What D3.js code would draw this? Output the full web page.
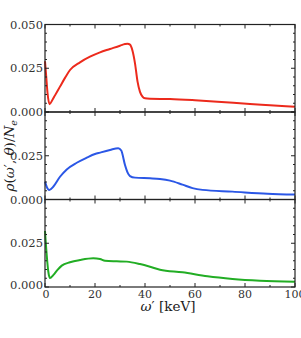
<!DOCTYPE html>
<html>
<head>
<meta charset="utf-8">
<script src="https://cdn.jsdelivr.net/npm/d3@7"></script>
<style>
  body { margin: 0; background: #fff; }
</style>
</head>
<body>
<div id="chart"></div>
<script>
var width = 301
var height = 338
var left = 45, right = 295
var panelTop = 24.5, panelH = 87.5

// red panel
var redOmega = [0, 0.5, 1, 1.8, 3, 4, 6, 8, 10, 14, 18, 22, 26, 30, 32, 33, 34, 35, 36, 37, 38, 39, 40, 42, 50, 60, 69, 82, 90, 100]
var redRho   = [0.029, 0.020, 0.011, 0.0045, 0.007, 0.0095, 0.0145, 0.0195, 0.024, 0.0284, 0.0316, 0.0341, 0.036, 0.0379, 0.0388, 0.039, 0.0385, 0.035, 0.0278, 0.0175, 0.0115, 0.0088, 0.0078, 0.0076, 0.0074, 0.0067, 0.0059, 0.0046, 0.0039, 0.0030]
// blue panel
var blueOmega = [0, 0.7, 1.7, 3.3, 6, 8.7, 12.7, 16.7, 20, 22, 26, 29.3, 30.5, 32, 33, 34, 36, 42, 46, 50, 55, 59, 63, 75, 89, 100]
var blueRho   = [0.0102, 0.0072, 0.0054, 0.0073, 0.013, 0.0172, 0.021, 0.0239, 0.026, 0.0268, 0.0283, 0.0293, 0.028, 0.0197, 0.0155, 0.0134, 0.0125, 0.0121, 0.0117, 0.0108, 0.0085, 0.0065, 0.0055, 0.0045, 0.0033, 0.0028]
// green panel
var greenOmega = [0, 0.7, 1.3, 2, 3.3, 5, 6.7, 10, 14, 19.3, 22, 24, 28.7, 32.7, 38, 42, 46, 55, 65, 75, 86, 100]
var greenRho   = [0.032, 0.018, 0.009, 0.0051, 0.0068, 0.0098, 0.0122, 0.0141, 0.0154, 0.0164, 0.016, 0.015, 0.0147, 0.0145, 0.0131, 0.0116, 0.0099, 0.0084, 0.0061, 0.0046, 0.0036, 0.003]

var yTickLabels = ["0.000", "0.025", "0.050"]
var xTickLabels = ["0", "20", "40", "60", "80", "100"]

var panels = [
  {omega: redOmega, rho: redRho, color: "#ec2a1c", topLabel: true},
  {omega: blueOmega, rho: blueRho, color: "#2b57e6", topLabel: false},
  {omega: greenOmega, rho: greenRho, color: "#22ad24", topLabel: false}
]

var svg = d3.select("#chart").append("svg")
    .attr("width", width)
    .attr("height", height)
    .style("font-family", "'DejaVu Serif', serif")

var x = d3.scaleLinear().domain([0, 100]).range([left, right])

panels.forEach(function(p, i) {
    var y0 = panelTop + i * panelH
    var y = d3.scaleLinear().domain([0, 0.05]).range([y0 + panelH, y0])
    var g = svg.append("g")

    // curve
    var pts = p.omega.map((o, k) => [o, p.rho[k]])
    g.append("path")
        .datum(pts)
        .attr("fill", "none")
        .attr("stroke", p.color)
        .attr("stroke-width", 2)
        .attr("stroke-linejoin", "round")
        .attr("d", d3.line()
            .x(d => x(d[0]))
            .y(d => y(d[1]))
            .curve(d3.curveMonotoneX))

    // frame
    g.append("rect")
        .attr("x", left).attr("y", y0)
        .attr("width", right - left).attr("height", panelH)
        .attr("fill", "none").attr("stroke", "#222").attr("stroke-width", 1.2)

    // y ticks, inward on both sides
    d3.range(0, 0.0501, 0.005).forEach(function(v, k) {
        var len = (k % 5 == 0) ? 4 : 2
        g.append("line").attr("x1", left).attr("x2", left + len)
            .attr("y1", y(v)).attr("y2", y(v)).attr("stroke", "#222")
        g.append("line").attr("x1", right).attr("x2", right - len)
            .attr("y1", y(v)).attr("y2", y(v)).attr("stroke", "#222")
    })
    // x ticks, inward top and bottom
    d3.range(0, 101, 10).forEach(function(v, k) {
        var len = (k % 2 == 0) ? 4 : 2
        g.append("line").attr("x1", x(v)).attr("x2", x(v))
            .attr("y1", y0).attr("y2", y0 + len).attr("stroke", "#222")
        g.append("line").attr("x1", x(v)).attr("x2", x(v))
            .attr("y1", y0 + panelH).attr("y2", y0 + panelH - len).attr("stroke", "#222")
    })

    // y tick labels
    yTickLabels.forEach(function(t) {
        if (t == "0.050" && !p.topLabel) return
        g.append("text")
            .attr("x", left - 2)
            .attr("y", y(+t) + (t == "0.000" && i == 2 ? 2 : 4))
            .attr("text-anchor", "end")
            .attr("fill", "#333")
            .style("font-size", "11.5px")
            .text(t)
    })
})

// x tick labels
var bottom = panelTop + 3 * panelH
xTickLabels.forEach(function(t) {
    svg.append("text")
        .attr("x", x(+t) + (t == "0" ? 1 : 0))
        .attr("y", bottom + 10.5)
        .attr("text-anchor", "middle")
        .attr("fill", "#333")
        .style("font-size", "11px")
        .text(t)
})

// x axis label
var xl = svg.append("text")
    .attr("x", (left + right) / 2 - 2)
    .attr("y", bottom + 24)
    .attr("text-anchor", "middle")
    .attr("fill", "#222")
    .style("font-size", "13.5px")
xl.append("tspan").style("font-style", "italic").text("ω")
xl.append("tspan").text("′ [keV]")

// y axis label
var yl = svg.append("text")
    .attr("transform", "translate(14," + (panelTop + 1.5 * panelH) + ") rotate(-90)")
    .attr("text-anchor", "middle")
    .attr("fill", "#222")
    .style("font-size", "13.5px")
yl.append("tspan").style("font-style", "italic").text("ρ")
yl.append("tspan").text("(")
yl.append("tspan").style("font-style", "italic").text("ω")
yl.append("tspan").text("′, ")
yl.append("tspan").style("font-style", "italic").text("θ")
yl.append("tspan").text(")/")
yl.append("tspan").style("font-style", "italic").text("N")
yl.append("tspan").style("font-style", "italic").style("font-size", "9.5px").attr("dy", 3).text("e")
</script>
</body>
</html>
